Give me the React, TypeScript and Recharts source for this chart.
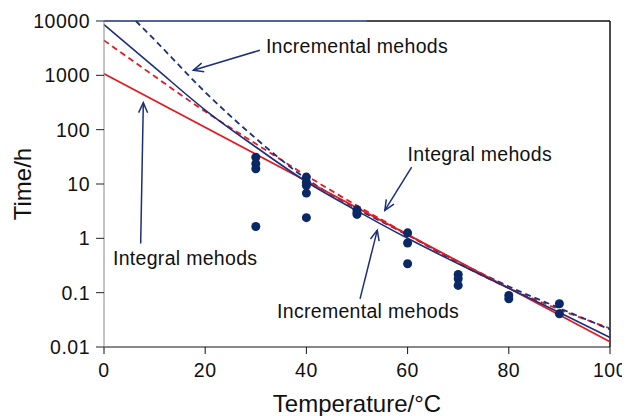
import { ComposedChart, Line, ReferenceDot, ReferenceLine, Scatter, XAxis, YAxis } from "recharts";

const NAVY = "#1c2f7c";
const RED = "#e21b22";
const DOT = "#0b2866";
const FONT = '"Liberation Sans", Arial, Helvetica, sans-serif';

// temperature grid the curves were read at
const curveTemps = [0, 10, 20, 30, 40, 50, 60, 70, 80, 90, 100];

// integral methods (red)
const integralFitTemps = [0, 100];
const integralFitTimes = [1070, 0.0125];
const integralDashedTimes = [4400, 960, 216, 55, 14.3, 4.0, 1.18, 0.35, 0.121, 0.049, 0.022];

// incremental methods (blue)
const incrementalFitTimes = [8600, 1400, 230, 48, 11, 3.2, 1.0, 0.34, 0.12, 0.043, 0.015];
const incrementalDashedTemps = [6.3, 10, 20, 30, 40, 50, 60, 70, 80, 90, 100];
const incrementalDashedTimes = [10000, 4500, 490, 69, 12.4, 3.5, 1.15, 0.37, 0.13, 0.052, 0.021];

// measured points
const pointTemps = [30, 30, 30, 30, 40, 40, 40, 40, 40, 50, 50, 50, 60, 60, 60, 70, 70, 70, 80, 80, 90, 90];
const pointTimes = [31, 23.7, 19.1, 1.65, 13.4, 10.8, 9.4, 6.8, 2.4, 3.37, 3.0, 2.76, 1.26, 0.82, 0.34, 0.216, 0.18, 0.136, 0.089, 0.077, 0.0625, 0.041];

const xTicks = [0, 20, 40, 60, 80, 100];
const yTicks = [0.01, 0.1, 1, 10, 100, 1000, 10000];

// annotations: [text, text anchor T, text anchor time, arrow start T, start time, arrow tip T, tip time]
const notes: [string, number, number, number, number, number, number][] = [
  ["Incremental mehods", 32.0, 2540, 30.8, 2900, 17.65, 1240],
  ["Integral mehods", 60.0, 26, 60.8, 20.5, 55.5, 3.27],
  ["Integral mehods", 1.78, 0.317, 7.25, 0.8, 7.77, 314],
  ["Incremental mehods", 34.2, 0.0349, 50.6, 0.077, 54.0, 1.4],
];

const toPoints = (ts: number[], vs: number[]) => ts.map((t, i) => ({ t, v: vs[i] }));

const integralFit = toPoints(integralFitTemps, integralFitTimes);
const integralDashed = toPoints(curveTemps, integralDashedTimes);
const incrementalFit = toPoints(curveTemps, incrementalFitTimes);
const incrementalDashed = toPoints(incrementalDashedTemps, incrementalDashedTimes);
const points = toPoints(pointTemps, pointTimes);

function Arrow(p: any) {
  const { x1, y1, x2, y2 } = p;
  const ang = Math.atan2(y2 - y1, x2 - x1);
  const len = 11;
  const spread = 0.42;
  const ax = x2 - len * Math.cos(ang - spread);
  const ay = y2 - len * Math.sin(ang - spread);
  const bx = x2 - len * Math.cos(ang + spread);
  const by = y2 - len * Math.sin(ang + spread);
  return (
    <g>
      <line x1={x1} y1={y1} x2={x2} y2={y2} stroke={NAVY} strokeWidth={1.5} />
      <polyline points={`${ax},${ay} ${x2},${y2} ${bx},${by}`} fill="none" stroke={NAVY} strokeWidth={1.5} />
    </g>
  );
}

export default function App() {
  return (
    <ComposedChart width={622} height={408} margin={{ top: 13, right: 20, bottom: 0, left: 0 }}>
      <XAxis
        dataKey="t"
        type="number"
        domain={[0, 100]}
        ticks={xTicks}
        stroke="#111"
        tickSize={7}
        tickMargin={9}
        height={69}
        tick={{ fill: "#111", fontSize: 19.5, fontFamily: FONT, letterSpacing: 0.5 }}
        label={{
          value: "Temperature/°C",
          position: "insideBottom",
          offset: 4,
          style: { fontSize: 24, fontFamily: FONT, fill: "#111" },
        }}
      />
      <YAxis
        dataKey="v"
        type="number"
        scale="log"
        domain={[0.01, 10000]}
        allowDataOverflow
        ticks={yTicks}
        width={96}
        axisLine={{ stroke: "#8a8a8a" }}
        tickLine={{ stroke: "#222" }}
        tickSize={8}
        tickMargin={6}
        tick={{ fill: "#111", fontSize: 19.5, fontFamily: FONT, letterSpacing: 0.5 }}
        label={{
          value: "Time/h",
          angle: -90,
          position: "insideLeft",
          offset: 14,
          style: { textAnchor: "middle", fontSize: 24, fontFamily: FONT, fill: "#111" },
        }}
      />
      <ReferenceLine segment={[{ x: 0, y: 10000 }, { x: 51.8, y: 10000 }]} stroke={NAVY} strokeWidth={1.5} ifOverflow="visible" />
      <ReferenceLine segment={[{ x: 51.8, y: 10000 }, { x: 100, y: 10000 }]} stroke="#111" strokeWidth={1.5} ifOverflow="visible" />
      <ReferenceLine x={100} stroke="#111" strokeWidth={1.5} ifOverflow="visible" />

      <Line data={integralDashed} dataKey="v" type="monotone" stroke={RED} strokeWidth={1.8} strokeDasharray="6 4" dot={false} isAnimationActive={false} />
      <Line data={incrementalDashed} dataKey="v" type="monotone" stroke={NAVY} strokeWidth={1.8} strokeDasharray="6 4" dot={false} isAnimationActive={false} />
      <Line data={integralFit} dataKey="v" type="linear" stroke={RED} strokeWidth={1.8} dot={false} isAnimationActive={false} />
      <Line data={incrementalFit} dataKey="v" type="monotone" stroke={NAVY} strokeWidth={1.6} dot={false} isAnimationActive={false} />
      <Scatter data={points} dataKey="v" fill={DOT} isAnimationActive={false} />

      {notes.map(([text, tt, tv, sx, sy, ex, ey], i) => (
        <ReferenceLine key={`a${i}`} segment={[{ x: sx, y: sy }, { x: ex, y: ey }]} shape={Arrow} ifOverflow="visible" />
      ))}
      {notes.map(([text, tt, tv], i) => (
        <ReferenceDot
          key={`t${i}`}
          x={tt}
          y={tv}
          r={0}
          ifOverflow="visible"
          shape={(p: any) => (
            <text x={p.cx} y={p.cy} fontSize={19.5} fontFamily={FONT} fill="#111" letterSpacing={0.3}>
              {text}
            </text>
          )}
        />
      ))}
    </ComposedChart>
  );
}
